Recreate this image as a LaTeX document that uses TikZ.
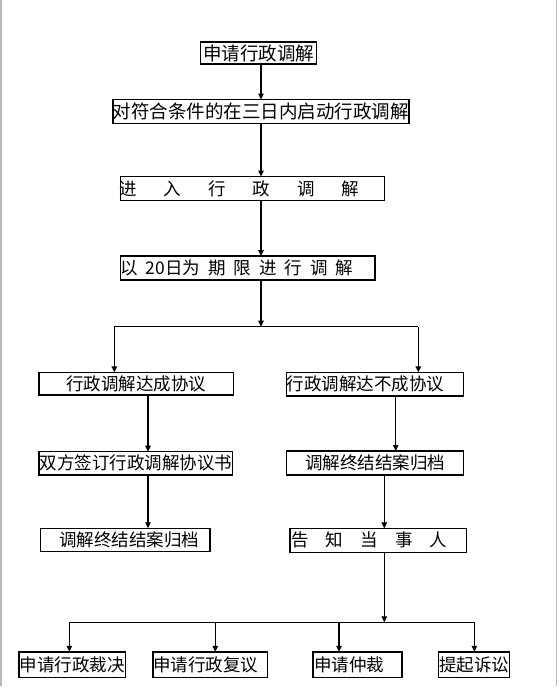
\documentclass[tikz,border=0pt]{standalone}
\usepackage{fontspec}
\newfontfamily\cjk{Noto Sans CJK SC}
\usetikzlibrary{arrows.meta}
\begin{document}
\begin{tikzpicture}[x=1pt,y=-1pt,
  box/.style={draw=black,line width=1.5pt,inner sep=0pt,outer sep=0pt,
    font=\cjk\fontsize{17.5pt}{18pt}\selectfont},
  bigtext/.style={font=\cjk\fontsize{18.5pt}{19pt}\selectfont},
  lbox/.style={box,align=left},
  conn/.style={line width=1.2pt,draw=black},
  arr/.style={conn,-{Triangle[length=6pt,width=5.5pt]}},
  edge/.style={line width=1.5pt,draw=black!28}]
\useasboundingbox (0,0) rectangle (558,691);
\draw[edge] (1,0) -- (1,686);
\draw[edge] (556.5,0) -- (556.5,686);

% boxes
\node[box,bigtext,minimum width=116pt,minimum height=22pt] (b1) at (258.5,53) {申请行政调解};
\node[box,bigtext,minimum width=281.5pt,minimum height=24pt] (b2) at (260.75,111.5) {对符合条件的在三日内启动行政调解};
\node[lbox,text width=264pt,minimum height=24pt] (b3) at (252.5,188.5)
  {\hspace*{-1pt}进\hspace{26.9pt}入\hspace{26.9pt}行\hspace{26.9pt}政\hspace{26.9pt}调\hspace{26.9pt}解};
\node[lbox,text width=254.5pt,minimum height=24pt] (b4) at (247.75,268)
  {以\hspace{8pt}20日为\hspace{8pt}期\hspace{8pt}限\hspace{8pt}进\hspace{8pt}行\hspace{8pt}调\hspace{8pt}解};
\node[box,minimum width=194.3pt,minimum height=22.7pt] (b5) at (136.15,383.65) {行政调解达成协议};
\node[lbox,text width=176.6pt,minimum height=23.7pt] (b6) at (375,384.15) {行政调解达不成协议};
\node[box,minimum width=193.7pt,minimum height=23.3pt] (b7) at (135.85,463.35) {双方签订行政调解协议书};
\node[box,minimum width=176.6pt,minimum height=24pt] (b8) at (375,463) {调解终结结案归档};
\node[lbox,text width=169.3pt,minimum height=23.4pt] (b9) at (125.35,540) {\hspace*{18.5pt}调解终结结案归档};
\node[lbox,text width=176.7pt,minimum height=24pt] (b10) at (378.35,540.3)
  {\hspace*{1pt}告\hspace{17.2pt}知\hspace{17.2pt}当\hspace{17.2pt}事\hspace{17.2pt}人};
\node[box,minimum width=106.4pt,minimum height=25.6pt] (b11) at (72.1,664.6) {申请行政裁决};
\node[lbox,text width=114.6pt,minimum height=25.6pt] (b12) at (210.3,664.6) {申请行政复议};
\node[lbox,text width=88.9pt,minimum height=25.6pt] (b13) at (357.65,664.6) {\hspace*{1pt}申请仲裁};
\node[box,minimum width=71.2pt,minimum height=25.6pt] (b14) at (474,664.6) {提起诉讼};

% stray tick at right of second box
\draw[line width=1.5pt] (b2.north east) -- ++(0,5);

% column coordinates
\coordinate (cA) at (261,0);
\coordinate (brM) at (261,326.7);
\coordinate (brL) at (114.3,326.7);
\coordinate (brR) at (418.3,326.7);
\coordinate (cL) at (148,0);
\coordinate (cR1) at (395.7,0);
\coordinate (cR2) at (384.3,0);
\coordinate (br2M) at (384.3,622.3);
\coordinate (d1) at (69.4,622.3);
\coordinate (d2) at (215.3,622.3);
\coordinate (d3) at (339,622.3);
\coordinate (d4) at (474.4,622.3);

% connectors
\draw[arr] (b1.south -| cA) -- (b2.north -| cA);
\draw[arr] (b2.south -| cA) -- (b3.north -| cA);
\draw[arr] (b3.south -| cA) -- (b4.north -| cA);
\draw[arr] (b4.south -| cA) -- (brM);
\draw[conn] (brL) -- (brR);
\draw[arr] (brL) -- (b5.north -| brL);
\draw[arr] (brR) -- (b6.north -| brR);
\draw[arr] (b5.south -| cL) -- (b7.north -| cL);
\draw[arr] (b7.south -| cL) -- (b9.north -| cL);
\draw[arr] (b6.south -| cR1) -- (b8.north -| cR1);
\draw[arr] (b8.south -| cR2) -- (b10.north -| cR2);
\draw[arr] (b10.south -| cR2) -- (br2M);
\draw[conn] (d1) -- (d4);
\draw[arr] (d1) -- (b11.north -| d1);
\draw[arr] (d2) -- (b12.north -| d2);
\draw[arr] (d3) -- (b13.north -| d3);
\draw[arr] (d4) -- (b14.north -| d4);
\end{tikzpicture}
\end{document}
